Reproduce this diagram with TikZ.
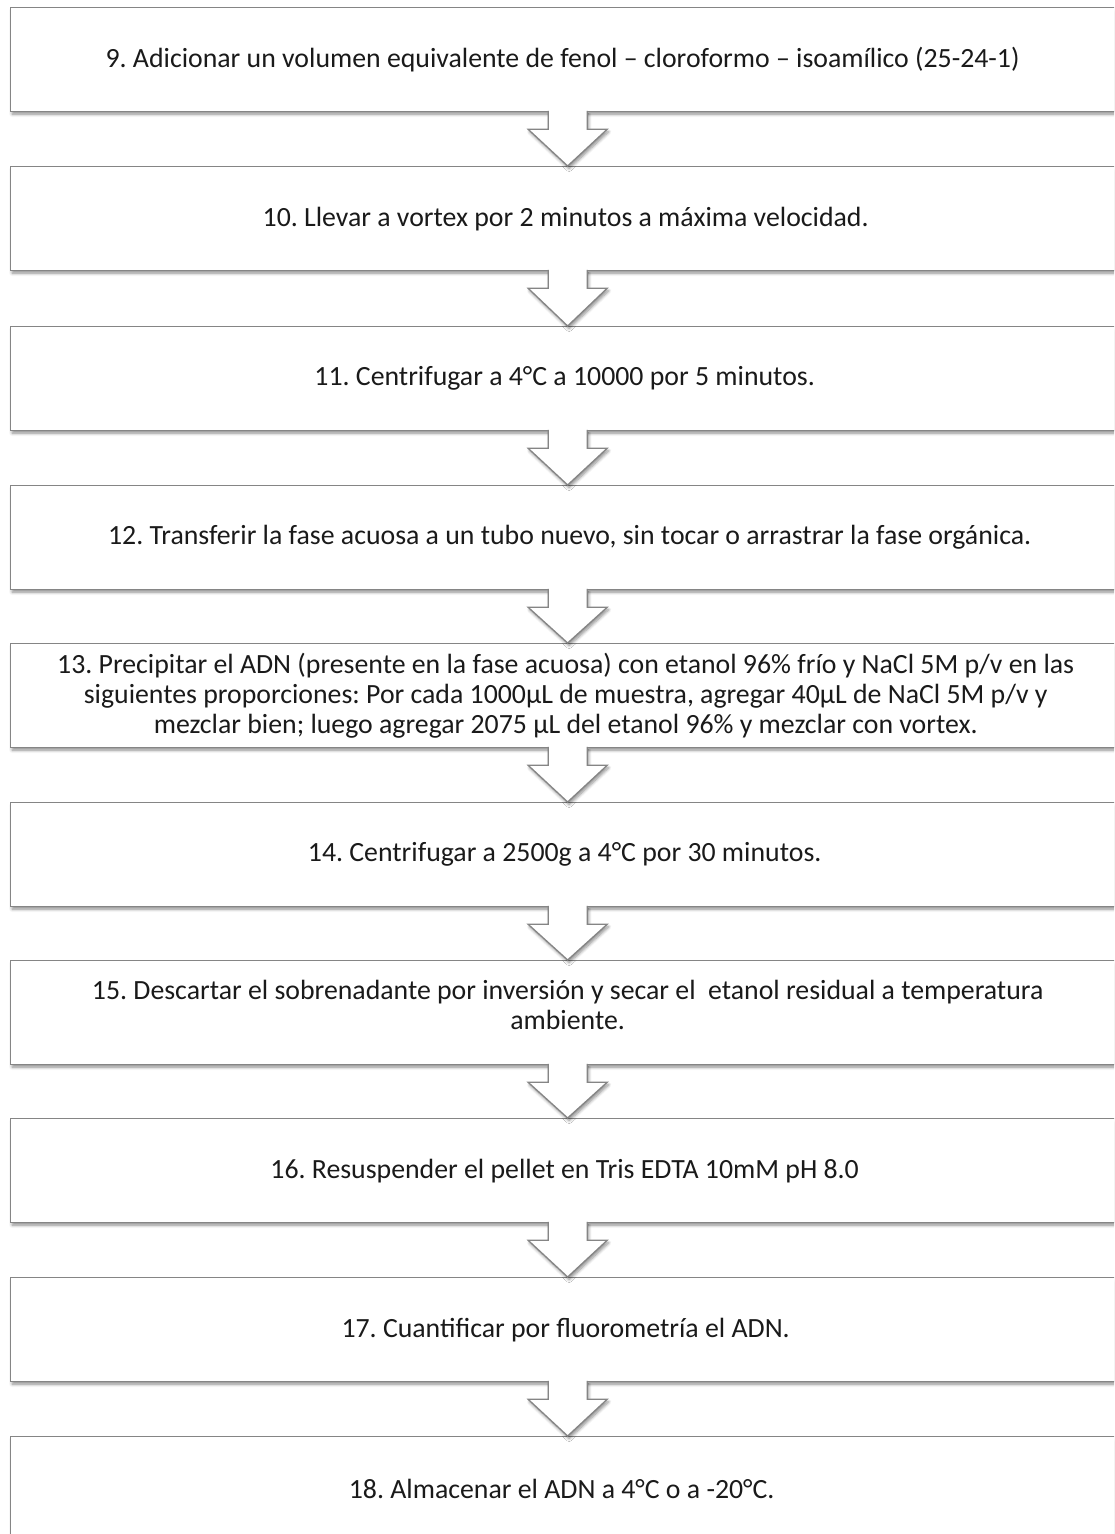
\documentclass[tikz,border=0pt]{standalone}
\usepackage{fontspec}
\setmainfont{Carlito}
\usetikzlibrary{shadows.blur}
\definecolor{edgegrey}{HTML}{858585}
\definecolor{inkblack}{HTML}{1A1A1A}
\frenchspacing

\begin{document}
\begin{tikzpicture}[x=1pt,y=-1pt,
  softshadow/.style={blur shadow={shadow xshift=1.5pt, shadow yshift=-2.5pt,
      shadow blur radius=3pt, shadow blur steps=6, shadow opacity=45}},
  stepbox/.style={draw=edgegrey, line width=1.3pt, fill=white, softshadow,
      minimum width=1130pt, minimum height=104pt, inner sep=0pt,
      anchor=north west},
  steptext/.style={text=inkblack, align=center, inner sep=0pt,
      font=\fontsize{27.8}{30}\selectfont},
  flowarrow/.style={draw=edgegrey, line width=1.3pt, fill=white, softshadow,
      line join=miter}
]
\useasboundingbox (0,0) rectangle (1114,1534);
\clip (0,0) rectangle (1114,1534);

% step boxes
\node[stepbox] (b9)  at (10,7)    {};
\node[stepbox] (b10) at (10,166)  {};
\node[stepbox] (b11) at (10,326)  {};
\node[stepbox] (b12) at (10,485)  {};
\node[stepbox] (b13) at (10,643)  {};
\node[stepbox] (b14) at (10,802)  {};
\node[stepbox] (b15) at (10,960)  {};
\node[stepbox] (b16) at (10,1118) {};
\node[stepbox] (b17) at (10,1277) {};
\node[stepbox] (b18) at (10,1436) {};

% block arrows between consecutive steps (open at the top)
\foreach \a/\b in {b9/b10,b10/b11,b11/b12,b12/b13,b13/b14,b14/b15,b15/b16,b16/b17,b17/b18}{
  \path[flowarrow] ([shift={(-27.5,-1.5)}]\a.south)
      -- ([shift={(-27.5,17)}]\a.south)
      -- ([shift={(-47.5,17)}]\a.south)
      -- ([xshift=-8pt]\b.north)
      -- ([shift={(31.5,17)}]\a.south)
      -- ([shift={(11.5,17)}]\a.south)
      -- ([shift={(11.5,-1.5)}]\a.south);
}

% step texts
\node[steptext] (t9)  at ([xshift=-13pt]b9.center)  {9. Adicionar un volumen equivalente de fenol – cloroformo – isoamílico (25-24-1)};
\node[steptext] (t10) at ([xshift=-10pt]b10.center) {10. Llevar a vortex por 2 minutos a máxima velocidad.};
\node[steptext] (t11) at ([xshift=-11pt]b11.center) {11. Centrifugar a 4°C a 10000 por 5 minutos.};
\node[steptext] (t12) at ([xshift=-6pt]b12.center) {12. Transferir la fase acuosa a un tubo nuevo, sin tocar o arrastrar la fase orgánica.};
\node[steptext] (t13) at ([xshift=-10pt]b13.center) {13. Precipitar el ADN (presente en la fase acuosa) con etanol 96\% frío y NaCl 5M p/v en las\\
  siguientes proporciones: Por cada 1000µL de muestra, agregar 40µL de NaCl 5M p/v y\\
  mezclar bien; luego agregar 2075 µL del etanol 96\% y mezclar con vortex.};
\node[steptext] (t14) at ([xshift=-11pt]b14.center) {14. Centrifugar a 2500g a 4°C por 30 minutos.};
\node[steptext] (t15) at ([xshift=-8pt,yshift=8pt]b15.center) {15. Descartar el sobrenadante por inversión y secar el \ etanol residual a temperatura\\ ambiente.};
\node[steptext] (t16) at ([xshift=-11pt]b16.center) {16. Resuspender el pellet en Tris EDTA 10mM pH 8.0};
\node[steptext] (t17) at ([xshift=-10pt]b17.center) {17. Cuantificar por fluorometría el ADN.};
\node[steptext] (t18) at ([xshift=-14pt]b18.center) {18. Almacenar el ADN a 4°C o a -20°C.};
\end{tikzpicture}
\end{document}
